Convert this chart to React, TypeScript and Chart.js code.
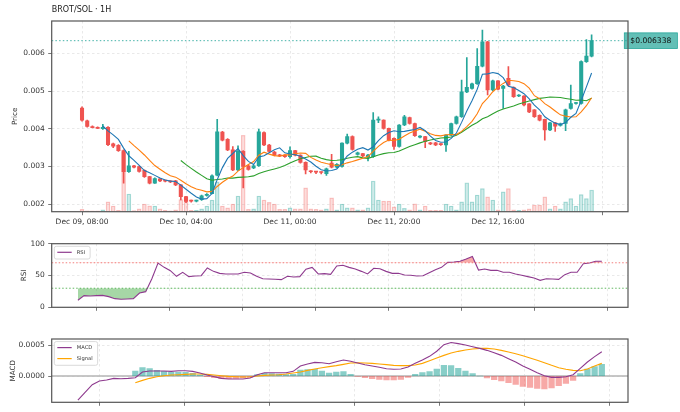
import { useEffect, useRef } from 'react';
import { Chart, registerables } from 'chart.js';

Chart.register(...registerables);

const FONT = "'DejaVu Sans', sans-serif";
Chart.defaults.font.family = FONT;
Chart.defaults.color = '#333';

const UP = '#26a69a';
const DOWN = '#ef5350';

// hourly candles, first one is Dec 09, 08:00
const opens = [
  0.00455, 0.00421, 0.00406, 0.00403, 0.004, 0.00404, 0.0036, 0.00356, 0.00342, 0.00286,
  0.00302, 0.003, 0.0029, 0.00273, 0.00256, 0.00267, 0.00263, 0.00261, 0.00262, 0.00251,
  0.0022, 0.00209, 0.00208, 0.00212, 0.00223, 0.00228, 0.00277, 0.00391, 0.00372, 0.00344,
  0.00291, 0.0034, 0.00302, 0.00296, 0.00302, 0.0039, 0.00357, 0.00338, 0.0033, 0.0033,
  0.00326, 0.00342, 0.0033, 0.00311, 0.00288, 0.00286, 0.00285, 0.00281, 0.00309, 0.00298,
  0.003, 0.00362, 0.00379, 0.00332, 0.00334, 0.00325, 0.00326, 0.00423, 0.00423, 0.00401,
  0.00375, 0.00353, 0.0041, 0.0043, 0.00414, 0.00378, 0.00379, 0.00363, 0.00363, 0.0036,
  0.00357, 0.00383, 0.00414, 0.00432, 0.00498, 0.00507, 0.0052, 0.00566, 0.00631, 0.00503,
  0.00527, 0.00507, 0.00534, 0.0051, 0.00487, 0.00487, 0.00466, 0.0045, 0.00436, 0.00425,
  0.00397, 0.00416, 0.00409, 0.00414, 0.00454, 0.00467, 0.00467, 0.00578, 0.00593,
];
const closes = [
  0.00423, 0.00406, 0.00403, 0.00401, 0.00404, 0.00358, 0.00354, 0.00342, 0.00286, 0.00302,
  0.00298, 0.00287, 0.00273, 0.00256, 0.00268, 0.00262, 0.00261, 0.00259, 0.00251, 0.0022,
  0.00207, 0.00208, 0.0021, 0.00222, 0.00226, 0.00275, 0.00392, 0.0037, 0.00344, 0.00291,
  0.0034, 0.003, 0.00292, 0.00302, 0.00392, 0.00357, 0.0034, 0.0033, 0.00328, 0.00326,
  0.00342, 0.0033, 0.00311, 0.00291, 0.00286, 0.00285, 0.00284, 0.00294, 0.00298, 0.00306,
  0.00362, 0.00379, 0.00345, 0.00336, 0.00328, 0.0033, 0.00423, 0.00426, 0.00401, 0.0037,
  0.00353, 0.0041, 0.00432, 0.00414, 0.00382, 0.0038, 0.00366, 0.0036, 0.00357, 0.00358,
  0.00383, 0.00414, 0.00432, 0.00498, 0.0051, 0.00519, 0.00566, 0.00631, 0.00503, 0.00527,
  0.00505, 0.00513, 0.00516, 0.00485, 0.00489, 0.00463, 0.00445, 0.00432, 0.00423, 0.00397,
  0.00416, 0.00407, 0.00413, 0.0045, 0.00467, 0.00468, 0.00578, 0.00593, 0.006338,
];
const highs = [
  0.00458, 0.00423, 0.00408, 0.00405, 0.00412, 0.00406, 0.00362, 0.00358, 0.00344, 0.0034,
  0.00303, 0.00301, 0.00291, 0.00274, 0.0027, 0.00268, 0.00264, 0.00262, 0.00263, 0.00252,
  0.00221, 0.00211, 0.00211, 0.00224, 0.00228, 0.00278, 0.00425, 0.00393, 0.00374, 0.00353,
  0.00355, 0.00342, 0.00304, 0.00304, 0.00399, 0.00392, 0.00359, 0.0034, 0.00332, 0.00331,
  0.00352, 0.00343, 0.00331, 0.00312, 0.00289, 0.00287, 0.00286, 0.00296, 0.00332, 0.00308,
  0.00363, 0.00386, 0.00381, 0.00338, 0.00335, 0.00332, 0.00443, 0.00432, 0.00424, 0.00402,
  0.00376, 0.00411, 0.00436, 0.00431, 0.00415, 0.00382, 0.0038, 0.00364, 0.00364, 0.00361,
  0.00384, 0.00415, 0.00434, 0.00529, 0.00589, 0.00521, 0.00613, 0.00662, 0.00632, 0.00529,
  0.00528, 0.00515, 0.00565, 0.00511, 0.00491, 0.00488, 0.00467, 0.00451, 0.00437, 0.00426,
  0.00417, 0.00417, 0.00415, 0.00452, 0.00516, 0.0047, 0.0058, 0.00637, 0.00649,
];
const lows = [
  0.0042, 0.00404, 0.00402, 0.004, 0.00398, 0.00355, 0.0035, 0.0034, 0.00256, 0.00284,
  0.00296, 0.00285, 0.00271, 0.00254, 0.00255, 0.0026, 0.00259, 0.00257, 0.00249, 0.00211,
  0.00204, 0.00205, 0.00206, 0.0021, 0.00221, 0.00227, 0.00275, 0.00368, 0.00342, 0.00289,
  0.00289, 0.00243, 0.0029, 0.00294, 0.003, 0.00355, 0.00338, 0.00328, 0.00326, 0.00324,
  0.00322, 0.00328, 0.00309, 0.0028, 0.00283, 0.00281, 0.0028, 0.00276, 0.00296, 0.00296,
  0.00298, 0.0036, 0.00343, 0.0033, 0.00326, 0.00315, 0.00324, 0.00416, 0.00399, 0.00368,
  0.00345, 0.00351, 0.00408, 0.00412, 0.0038, 0.00376, 0.0035, 0.00358, 0.00355, 0.00356,
  0.0034, 0.00381, 0.00412, 0.0043, 0.00496, 0.00505, 0.00518, 0.00564, 0.0049, 0.00501,
  0.00503, 0.00454, 0.00514, 0.00483, 0.00485, 0.00461, 0.00443, 0.0043, 0.00421, 0.0037,
  0.00395, 0.00393, 0.00407, 0.00395, 0.00452, 0.00465, 0.00465, 0.00576, 0.00591,
];
const volumes = [
  2.5, 1, 0.8, 0.8, 2, 10, 5.7, 1.5, 60, 17.7,
  1.2, 3, 7.7, 6, 5.7, 3, 1.5, 1, 2, 12.3,
  11.7, 1.5, 1.5, 3, 5.7, 11.7, 30, 5.7, 4, 7.7,
  15.7, 76.7, 2.5, 3, 15.7, 11.7, 9.3, 7.7, 2.5, 2.5,
  4, 3, 3, 24, 3, 2.5, 2, 3, 14, 2,
  7.7, 4, 4, 2, 2, 4, 30.7, 11.7, 10.7, 10.7,
  5, 7.7, 3.3, 2, 8, 2, 5.7, 1.5, 1.5, 1.5,
  7.7, 5.7, 2, 10, 29, 10, 16.7, 23.3, 15, 11.7,
  2, 20, 23.3, 2, 1.5, 2, 3, 6.7, 6.7, 15,
  3, 5.7, 3, 10, 13.3, 5.7, 17.3, 13.3, 21.7,
];

const timeTicks = [0, 20, 40, 60, 80, 100];
const timeTickLabels = ['Dec 09, 08:00', 'Dec 10, 04:00', 'Dec 11, 00:00', 'Dec 11, 20:00', 'Dec 12, 16:00', ''];
const priceTicks = [0.002, 0.003, 0.004, 0.005, 0.006];

// RSI(14), first value at Dec 09, 21:00
const rsi = [
  11, 18.3, 17.8, 18.3, 18.8, 16.8, 13.6, 12.6, 13.1, 13.6,
  22.5, 24.6, 45, 69.5, 62.8, 57.6, 48.7, 55, 48.2, 49.2,
  49.7, 61.8, 56.5, 53.4, 52.4, 52.4, 52.4, 55, 54, 48.7,
  45, 44.5, 44, 43.5, 48.7, 47.6, 48.2, 60, 62.8, 52.4,
  52.9, 51.8, 65, 66, 62.8, 60.2, 56.5, 52.4, 61.3, 60.7,
  56.5, 53.4, 53.4, 50.8, 50.3, 49.2, 49.7, 54.5, 59.2, 62.8,
  70.7, 71.2, 72.3, 76, 80, 58.6, 60.2, 58.1, 58.1, 55,
  55, 52.4, 50.3, 48.2, 46, 42.4, 45, 44.5, 44, 51.3,
  55, 55, 68.6, 69.6, 72.3, 72.3,
];
const rsiTicks = [3, 14.85, 26.7, 38.55, 50.4, 62.25, 74.1, 85.95];
const rsiLevels = [0, 50, 100];
const OVERBOUGHT = 70;
const OVERSOLD = 30;

// MACD(12, 26, 9), first value at Dec 10, 09:00
const macd = [
  -0.000387, -0.000263, -0.00014, -0.0000806, -0.0000645, -0.0000376, -0.000043, -0.0000376, -0.0000269, 0.0000645,
  0.0000806, 0.0000806, 0.0000806, 0.0000753, 0.000086, 0.000086, 0.0000753, 0.0000484, 0.0000161, -0.0000108,
  -0.0000376, -0.0000484, -0.0000484, -0.0000484, -0.0000323, 0.0000215, 0.0000538, 0.0000538, 0.0000538, 0.0000538,
  0.0000753, 0.000161, 0.000194, 0.00022, 0.000215, 0.000199, 0.000231, 0.000258, 0.000237, 0.00021,
  0.000183, 0.000161, 0.00014, 0.000118, 0.000108, 0.000113, 0.000145, 0.000204, 0.000258, 0.000317,
  0.0004, 0.000505, 0.00054, 0.000522, 0.0005, 0.000473, 0.000446, 0.000414, 0.000376, 0.000333,
  0.00028, 0.000226, 0.000161, 0.000108, 0.0000538, 0.0000054, -0.0000215, -0.0000215, -0.0000108, 0.0000215,
  0.000124, 0.000226, 0.000312, 0.000392,
];
const signal = [
  null, null, null, null, null, null, null, null, -0.000108, -0.00007,
  -0.0000376, -0.0000108, 0.0000054, 0.0000161, 0.0000215, 0.0000269, 0.0000323, 0.0000323, 0.0000269, 0.0000161,
  0.0000054, -0.0000054, -0.0000108, -0.0000161, -0.0000108, 0, 0.0000108, 0.0000161, 0.0000215, 0.0000323,
  0.0000484, 0.0000645, 0.0000914, 0.000113, 0.000134, 0.000151, 0.000167, 0.000188, 0.00021, 0.000215,
  0.00021, 0.000204, 0.000194, 0.000183, 0.000172, 0.000167, 0.000167, 0.000177, 0.000204, 0.000247,
  0.00029, 0.000333, 0.000371, 0.000398, 0.000419, 0.000435, 0.000446, 0.000446, 0.000435, 0.000414,
  0.000387, 0.00036, 0.000328, 0.00029, 0.000253, 0.000215, 0.000172, 0.000134, 0.000108, 0.0000914,
  0.000086, 0.000113, 0.000161, 0.000204,
];
const macdTicks = [3, 14.85, 26.7, 38.55, 50.4, 62.25, 74.1];
const macdLevels = [0, 0.0005];

const sma = (vals: number[], n: number) =>
  vals.map((_, i) => (i < n - 1 ? null : vals.slice(i - n + 1, i + 1).reduce((a, b) => a + b, 0) / n));

const gridOpts = {
  color: 'rgba(0,0,0,0.11)',
  lineWidth: 0.8,
  tickLength: 3.5,
  tickColor: '#555',
  tickWidth: 0.8,
  tickBorderDash: [],
};
const borderOpts = { display: false, dash: [2.5, 2.5] };
const tickFont = { size: 7.5 };

const frame = {
  id: 'frame',
  afterDraw(chart: any) {
    const { ctx, chartArea: a } = chart;
    ctx.save();
    ctx.strokeStyle = '#555';
    ctx.lineWidth = 1.2;
    ctx.strokeRect(a.left, a.top, a.right - a.left, a.bottom - a.top);
    ctx.restore();
  },
};

const hline = (id: string, value: number, color: string, dash: number[], width: number, behind = false) => {
  const draw = (chart: any) => {
    const { ctx, chartArea: a, scales } = chart;
    const y = scales.y.getPixelForValue(value);
    ctx.save();
    ctx.beginPath();
    ctx.setLineDash(dash);
    ctx.strokeStyle = color;
    ctx.lineWidth = width;
    ctx.moveTo(a.left, y);
    ctx.lineTo(a.right, y);
    ctx.stroke();
    ctx.restore();
  };
  return behind ? { id, beforeDatasetsDraw: draw } : { id, afterDatasetsDraw: draw };
};

const boxLegend = (items: { label: string; color: string }[]) => ({
  id: 'boxLegend',
  afterDraw(chart: any) {
    const { ctx, chartArea: a } = chart;
    ctx.save();
    ctx.font = `5.2px ${FONT}`;
    const w = 22.4 + Math.max(...items.map((it) => ctx.measureText(it.label).width)) + 5;
    const h = items.length * 11 + 1.7;
    const x = a.left + 2.6;
    const y = a.top + 2.6;
    ctx.beginPath();
    ctx.roundRect(x, y, w, h, 2);
    ctx.fillStyle = 'rgba(255,255,255,0.85)';
    ctx.fill();
    ctx.strokeStyle = '#d0d0d0';
    ctx.lineWidth = 0.8;
    ctx.stroke();
    items.forEach((it, k) => {
      const cy = y + 6 + k * 11;
      ctx.beginPath();
      ctx.strokeStyle = it.color;
      ctx.lineWidth = 1.2;
      ctx.moveTo(x + 3, cy);
      ctx.lineTo(x + 17.4, cy);
      ctx.stroke();
      ctx.fillStyle = '#333';
      ctx.textBaseline = 'middle';
      ctx.fillText(it.label, x + 22.4, cy);
    });
    ctx.restore();
  },
});

const xAxis = (min: number, max: number, ticks: number[], labels: string[] | null, height: number) => ({
  type: 'linear' as const,
  min,
  max,
  offset: false,
  afterBuildTicks: (s: any) => {
    s.ticks = ticks.map((v) => ({ value: v }));
  },
  afterFit: (s: any) => {
    s.height = height;
  },
  ticks: {
    callback: (_v: any, i: number) => (labels ? labels[i] : ''),
    font: tickFont,
    color: '#333',
    padding: 2,
    maxRotation: 0,
    autoSkip: false,
  },
  grid: { ...gridOpts, offset: false },
  border: borderOpts,
});

const yAxis = (min: number, max: number, ticks: number[], fmt: (v: number) => string, label: string, labelPad: number) => ({
  min,
  max,
  afterBuildTicks: (s: any) => {
    s.ticks = ticks.map((v) => ({ value: v }));
  },
  afterFit: (s: any) => {
    s.width = 51.7;
  },
  ticks: { callback: (v: any) => fmt(Number(v)), font: tickFont, color: '#333', padding: 3.5 },
  grid: gridOpts,
  border: borderOpts,
  title: { display: true, text: label, font: { size: 7.2 }, color: '#333', padding: { top: labelPad, bottom: 0 } },
});

const App = () => {
  const priceRef = useRef<HTMLCanvasElement>(null);
  const rsiRef = useRef<HTMLCanvasElement>(null);
  const macdRef = useRef<HTMLCanvasElement>(null);

  useEffect(() => {
    const charts: Chart[] = [];
    const last = closes[closes.length - 1];
    const candleColors = closes.map((c, i) => (c >= opens[i] ? UP : DOWN));
    const volColors = closes.map((c, i) => (c >= opens[i] ? 'rgba(38,166,154,0.22)' : 'rgba(239,83,80,0.2)'));
    const volBorders = closes.map((c, i) => (c >= opens[i] ? 'rgba(38,166,154,0.35)' : 'rgba(239,83,80,0.3)'));
    const line = (vals: (number | null)[], color: string, order: number, label = '') => ({
      type: 'line' as const,
      label,
      data: vals.map((v, i) => ({ x: i, y: v })),
      borderColor: color,
      borderWidth: 1.1,
      pointRadius: 0,
      order,
    });

    const titlePlugin = {
      id: 'title',
      afterDraw(chart: any) {
        const { ctx, chartArea: a } = chart;
        ctx.save();
        ctx.font = `8px ${FONT}`;
        ctx.fillStyle = '#222';
        ctx.textBaseline = 'middle';
        ctx.fillText('BROT/SOL · 1H', a.left, 10);
        ctx.restore();
      },
    };
    const lastPrice = {
      id: 'lastPrice',
      afterDatasetsDraw(chart: any) {
        const { ctx, chartArea: a, scales } = chart;
        const y = scales.y.getPixelForValue(last);
        ctx.save();
        ctx.beginPath();
        ctx.setLineDash([1.5, 2.2]);
        ctx.strokeStyle = 'rgba(38,166,154,0.85)';
        ctx.lineWidth = 1;
        ctx.moveTo(a.left, y);
        ctx.lineTo(a.right, y);
        ctx.stroke();
        ctx.restore();
      },
      afterDraw(chart: any) {
        const { ctx, chartArea: a, scales } = chart;
        const y = scales.y.getPixelForValue(last);
        const text = '$' + last.toFixed(6);
        ctx.save();
        ctx.font = `7.6px ${FONT}`;
        const w = ctx.measureText(text).width + 12;
        const x = a.right - 3.7;
        ctx.fillStyle = 'rgba(38,166,154,0.72)';
        ctx.fillRect(x, y - 7.8, w, 15.6);
        ctx.strokeStyle = '#26a69a';
        ctx.lineWidth = 0.8;
        ctx.strokeRect(x, y - 7.8, w, 15.6);
        ctx.fillStyle = '#111';
        ctx.textBaseline = 'middle';
        ctx.fillText(text, x + 6, y + 0.5);
        ctx.restore();
      },
    };

    if (priceRef.current) {
      charts.push(
        new Chart(priceRef.current, {
          type: 'bar',
          data: {
            datasets: [
              {
                type: 'bar',
                data: volumes.map((v, i) => ({ x: i, y: v })),
                backgroundColor: volColors,
                borderColor: volBorders,
                borderWidth: 0.6,
                barThickness: 4,
                grouped: false,
                yAxisID: 'yv',
                order: 10,
              },
              {
                type: 'bar',
                data: closes.map((_, i) => ({ x: i, y: [lows[i], highs[i]] })),
                backgroundColor: candleColors,
                barThickness: 1,
                grouped: false,
                order: 3,
              },
              {
                type: 'bar',
                data: closes.map((c, i) => ({ x: i, y: [opens[i], c] })),
                backgroundColor: candleColors,
                barThickness: 3.4,
                minBarLength: 1,
                grouped: false,
                order: 2,
              },
              line(sma(closes, 5), '#1f77b4', 1),
              line(sma(closes, 10), '#ff7f0e', 1),
              line(sma(closes, 20), '#2ca02c', 1),
            ] as any,
          },
          options: {
            animation: false,
            responsive: false,
            layout: { padding: { top: 21, right: 52, left: 0, bottom: 0 } },
            plugins: { legend: { display: false }, tooltip: { enabled: false } },
            scales: {
              x: xAxis(-5.83, 105, timeTicks, timeTickLabels, 20.3),
              y: yAxis(0.0018, 0.00686, priceTicks, (v) => v.toFixed(3), 'Price', 10.7),
              yv: { display: false, min: 0, max: Math.max(...volumes) * 2.5 },
            } as any,
          },
          plugins: [titlePlugin, lastPrice, frame],
        })
      );
    }

    if (rsiRef.current) {
      const rsiData = rsi.map((v, j) => ({ x: j, y: v }));
      charts.push(
        new Chart(rsiRef.current, {
          type: 'line',
          data: {
            datasets: [
              {
                label: 'RSI',
                data: rsiData,
                borderColor: '#8e3a8e',
                borderWidth: 1.1,
                pointRadius: 0,
                fill: { target: { value: OVERSOLD }, above: 'rgba(0,0,0,0)', below: 'rgba(44,160,44,0.42)' },
                order: 1,
              },
              {
                label: '',
                data: rsiData,
                borderColor: 'rgba(0,0,0,0)',
                borderWidth: 0,
                pointRadius: 0,
                fill: { target: { value: OVERBOUGHT }, above: 'rgba(239,83,80,0.5)', below: 'rgba(0,0,0,0)' },
                order: 2,
              },
            ] as any,
          },
          options: {
            animation: false,
            responsive: false,
            layout: { padding: { top: 11.7, right: 52, left: 0, bottom: 0 } },
            plugins: { legend: { display: false }, tooltip: { enabled: false } },
            scales: {
              x: xAxis(-4.25, 89.25, rsiTicks, null, 14.7),
              y: yAxis(0, 100, rsiLevels, (v) => String(v), 'RSI', 19.7),
            } as any,
          },
          plugins: [
            hline('ob', OVERBOUGHT, 'rgba(239,83,80,0.75)', [1.5, 2], 1),
            hline('os', OVERSOLD, 'rgba(44,160,44,0.75)', [1.5, 2], 1),
            frame,
            boxLegend([{ label: 'RSI', color: '#8e3a8e' }]),
          ],
        })
      );
    }

    if (macdRef.current) {
      const hist = macd.map((m, k) => (signal[k] == null ? null : m - (signal[k] as number)));
      charts.push(
        new Chart(macdRef.current, {
          type: 'bar',
          data: {
            datasets: [
              {
                type: 'bar',
                data: hist.map((h, k) => ({ x: k, y: h })),
                backgroundColor: hist.map((h) => ((h ?? 0) >= 0 ? 'rgba(38,166,154,0.55)' : 'rgba(239,83,80,0.5)')),
                barThickness: 5.6,
                grouped: false,
                order: 3,
              },
              line(macd, '#8e3a8e', 1, 'MACD'),
              line(signal, '#ffa500', 2, 'Signal'),
            ] as any,
          },
          options: {
            animation: false,
            responsive: false,
            layout: { padding: { top: 17, right: 52, left: 0, bottom: 0 } },
            plugins: { legend: { display: false }, tooltip: { enabled: false } },
            scales: {
              x: xAxis(-3.65, 76.65, macdTicks, null, 9.7),
              y: yAxis(-0.000424, 0.000597, macdLevels, (v) => v.toFixed(4), 'MACD', 8.7),
            } as any,
          },
          plugins: [
            hline('zero', 0, '#b5b5b5', [], 1.4, true),
            frame,
            boxLegend([
              { label: 'MACD', color: '#8e3a8e' },
              { label: 'Signal', color: '#ffa500' },
            ]),
          ],
        })
      );
    }

    return () => {
      charts.forEach((c) => c.destroy());
    };
  }, []);

  return (
    <div style={{ position: 'absolute', left: 0, top: 0, width: 680, height: 412, background: '#fff' }}>
      <canvas ref={priceRef} width={680} height={232} style={{ position: 'absolute', left: 0, top: 0 }} />
      <canvas ref={rsiRef} width={680} height={90} style={{ position: 'absolute', left: 0, top: 232 }} />
      <canvas ref={macdRef} width={680} height={90} style={{ position: 'absolute', left: 0, top: 322 }} />
    </div>
  );
};

export default App;
